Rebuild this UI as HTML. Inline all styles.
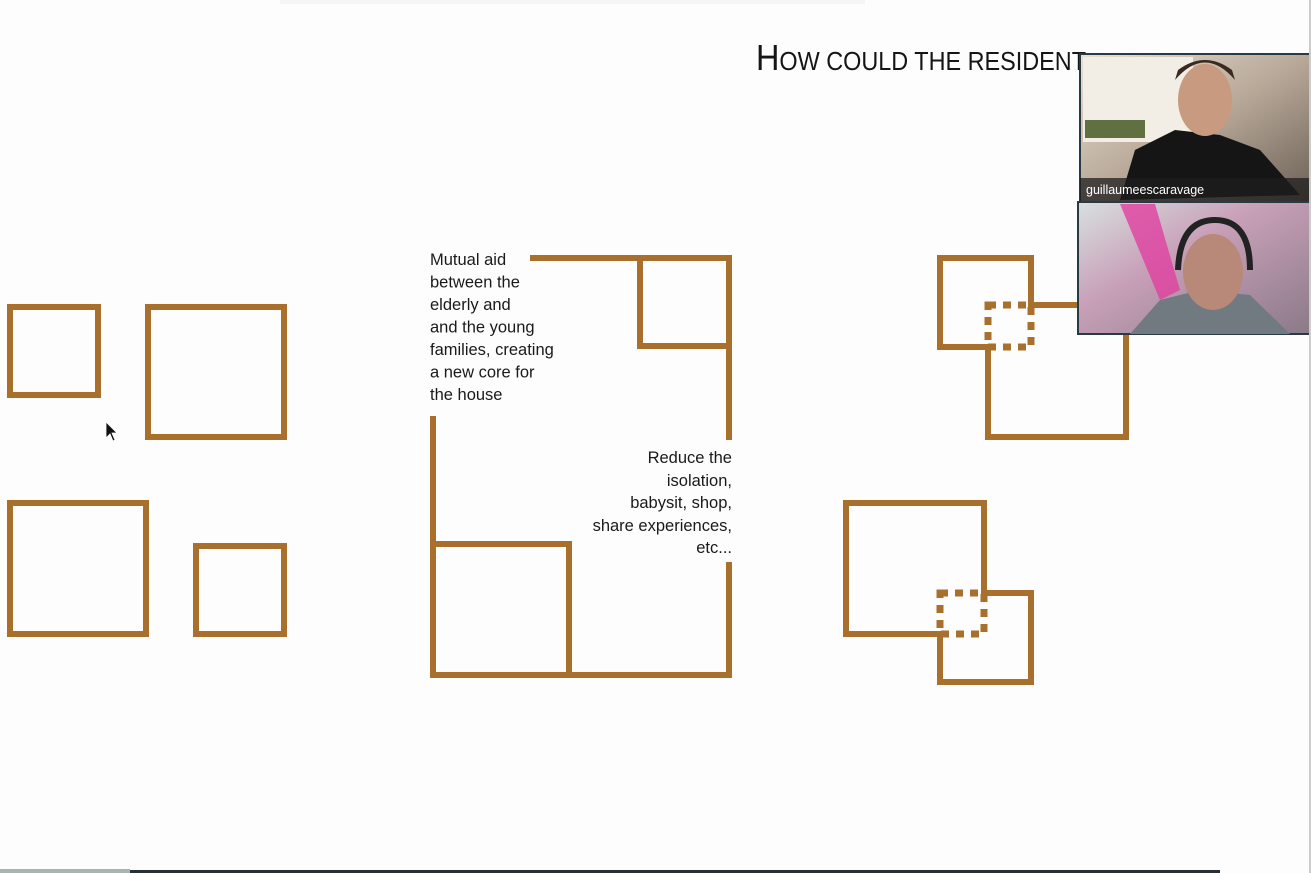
<!DOCTYPE html>
<html><head><meta charset="utf-8"><style>
html,body{margin:0;padding:0;background:#fefdfd;}
body{width:1311px;height:873px;overflow:hidden;position:relative;font-family:"Liberation Sans","DejaVu Sans",sans-serif;}
</style></head><body>
<svg width="1311" height="873" viewBox="0 0 1311 873" style="position:absolute;left:0;top:0">
<defs>
<linearGradient id="v1" x1="0" y1="0" x2="1" y2="1">
<stop offset="0" stop-color="#e8e2d4"/><stop offset="0.5" stop-color="#b8a898"/><stop offset="1" stop-color="#6a6055"/></linearGradient>
<linearGradient id="v2" x1="0" y1="0" x2="1" y2="1">
<stop offset="0" stop-color="#d8e0e0"/><stop offset="0.4" stop-color="#c8a0b8"/><stop offset="1" stop-color="#8a7a88"/></linearGradient>
</defs>
<rect x="280" y="0" width="585" height="4" fill="#eeeeee" opacity="0.5"/>
<g fill="none" stroke="#a8702c" stroke-width="6">
<rect x="10" y="307" width="88" height="88"/>
<rect x="148" y="307" width="136" height="130"/>
<rect x="10" y="503" width="136" height="131"/>
<rect x="196" y="546" width="88" height="88"/>
<polyline points="530,258 729,258 729,440"/>
<rect x="640" y="258" width="89" height="88"/>
<polyline points="729,562 729,675 433,675 433,416"/>
<rect x="433" y="544" width="136" height="131"/>
<polygon points="940,258 1031,258 1031,305 1126,305 1126,437 988,437 988,347 940,347"/>
<polygon points="846,503 984,503 984,593 1031,593 1031,682 940,682 940,634 846,634"/>
</g>
<g fill="none" stroke="#a8702c" stroke-width="7" stroke-dasharray="8,7">
<rect x="988" y="305" width="43" height="42"/>
<rect x="940" y="593" width="44" height="41"/>
</g>
<g fill="#1a1a1a" font-size="16.5">
<text x="430" y="265">Mutual aid</text>
<text x="430" y="287.5">between the</text>
<text x="430" y="310">elderly and</text>
<text x="430" y="332.5">and the young</text>
<text x="430" y="355">families, creating</text>
<text x="430" y="377.5">a new core for</text>
<text x="430" y="400">the house</text>
</g>
<g fill="#1a1a1a" font-size="16.5" text-anchor="end">
<text x="732" y="463">Reduce the</text>
<text x="732" y="486">isolation,</text>
<text x="732" y="508">babysit, shop,</text>
<text x="732" y="531">share experiences,</text>
<text x="732" y="553">etc...</text>
</g>
<text x="756" y="70" fill="#151515" font-size="36" textLength="330" lengthAdjust="spacingAndGlyphs">H<tspan font-size="26">OW COULD THE RESIDENT</tspan></text>
<path d="M106,422 L106,438 L110,434 L113,441 L115,440 L112,433 L117,433 Z" fill="#111" stroke="#fff" stroke-width="0.8"/>
<rect x="1080" y="54" width="231" height="148" fill="url(#v1)" stroke="#2a3a44" stroke-width="2"/>
<rect x="1083" y="57" width="110" height="85" fill="#f2eee6"/>
<path d="M1120,200 L1135,150 L1175,130 L1220,135 L1260,150 L1300,195 Z" fill="#151515"/>
<ellipse cx="1205" cy="100" rx="27" ry="36" fill="#c89a80"/>
<path d="M1175,80 Q1205,45 1235,80 L1232,70 Q1205,50 1178,70 Z" fill="#3a2a20"/>
<rect x="1085" y="120" width="60" height="18" fill="#607040"/>
<rect x="1080" y="178" width="231" height="24" fill="#1e1e1e" opacity="0.75"/>
<text x="1086" y="194" fill="#fff" font-size="12.5">guillaumeescaravage</text>
<rect x="1078" y="202" width="233" height="132" fill="url(#v2)" stroke="#2a3a44" stroke-width="2"/>
<path d="M1120,204 L1155,204 L1180,290 L1160,300 Z" fill="#e040a0" opacity="0.8"/>
<path d="M1130,334 L1160,300 L1200,290 L1250,295 L1290,334 Z" fill="#707a80"/>
<ellipse cx="1213" cy="272" rx="30" ry="38" fill="#b88878"/>
<path d="M1178,270 Q1180,220 1215,220 Q1250,220 1250,270" fill="none" stroke="#222" stroke-width="6"/>
<rect x="0" y="869" width="130" height="4" fill="#a8b4b0"/>
<rect x="130" y="870" width="1090" height="3" fill="#2a2f33"/>
<rect x="1309" y="0" width="2" height="873" fill="#ccc"/>
</svg>
</body></html>
